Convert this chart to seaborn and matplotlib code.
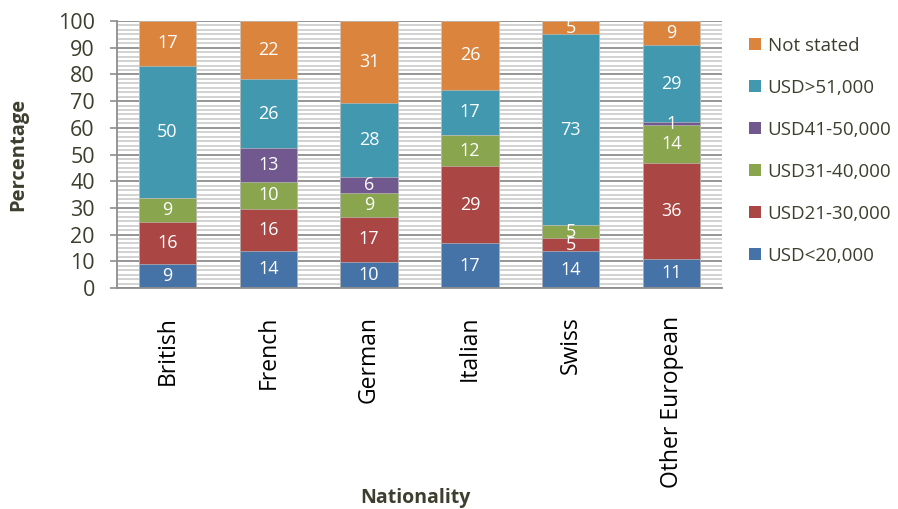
import numpy as np
import pandas as pd
import matplotlib
matplotlib.use("Agg")
import matplotlib.pyplot as plt
from matplotlib.patches import Patch
import seaborn as sns

# Survey: income band share by nationality (percent, rounded)
nationalities = ["British", "French", "German", "Italian", "Swiss", "Other European"]
usd_lt_20k = [9, 14, 10, 17, 14, 11]
usd_21_30k = [16, 16, 17, 29, 5, 36]
usd_31_40k = [9, 10, 9, 12, 5, 14]
usd_41_50k = [0, 13, 6, 0, 0, 1]
usd_gt_51k = [50, 26, 28, 17, 73, 29]
not_stated = [17, 22, 31, 26, 5, 9]

series_names = ["USD<20,000", "USD21-30,000", "USD31-40,000",
                "USD41-50,000", "USD>51,000", "Not stated"]
series_values = [usd_lt_20k, usd_21_30k, usd_31_40k, usd_41_50k, usd_gt_51k, not_stated]
series_colors = ["#4572A7", "#AA4643", "#89A54E", "#71588F", "#4198AF", "#DB843D"]

y_ticks = list(range(0, 101, 10))

sns.set_theme(style="white")
plt.rcParams["font.family"] = ["Open Sans", "DejaVu Sans"]

fig = plt.figure(figsize=(8.98, 5.09), dpi=100)
ax = fig.add_axes([0.1303, 0.4342, 0.6737, 0.5245])

# 100% stacked: scale each nationality's bands to sum to 100
raw = np.array(series_values, dtype=float)
totals = raw.sum(axis=0)
pct = raw / totals * 100
cum = np.cumsum(pct, axis=0)
bottoms = cum - pct

# Striped plot-area background with darker major gridlines
for y in np.arange(0, 100, 10 / 6):
    if abs(y / 10 - round(y / 10)) > 1e-6:
        ax.axhline(y, color="#d2d2d2", lw=1.4, zorder=0)
for y in y_ticks:
    ax.axhline(y, color="#8e8e8e", lw=1.3, zorder=0.5)

# Draw cumulative tops from the highest band down so each layer shows its slice
for i in range(len(series_names) - 1, -1, -1):
    df = pd.DataFrame({"Nationality": nationalities, "top": cum[i]})
    sns.barplot(data=df, x="Nationality", y="top", color=series_colors[i],
                saturation=1, width=0.57, ax=ax, zorder=2,
                edgecolor="#c8c8c8", linewidth=0.4)

# Value labels centred in each band
for i in range(len(series_names)):
    for j in range(len(nationalities)):
        v = series_values[i][j]
        if v == 0:
            continue
        ax.text(j, bottoms[i][j] + pct[i][j] / 2, f"{v}", ha="center", va="center",
                color="white", fontsize=13, zorder=5)

ax.set_xlim(-0.5, len(nationalities) - 0.5)
ax.set_ylim(0, 100)
ax.set_yticks(y_ticks)
ax.set_yticklabels([str(t) for t in y_ticks], fontsize=15.5, color="#3e3e2e")
ax.tick_params(axis="y", which="both", left=True, length=5, width=1.2,
               color="#8e8e8e", pad=11)
ax.tick_params(axis="x", labelsize=16.5, labelrotation=90, bottom=False,
               labelcolor="black", pad=14)
for lab in ax.get_xticklabels():
    lab.set_va("top")

ax.set_ylabel("Percentage", fontsize=14.5, fontweight="bold", color="#3e3e2e")
ax.yaxis.set_label_coords(-0.147, 0.5)
ax.set_xlabel("")
fig.text(0.463, 0.022, "Nationality", ha="center", va="center",
         fontsize=14, fontweight="bold", color="#3e3e2e")

for side in ["top", "right"]:
    ax.spines[side].set_visible(False)
for side in ["left", "bottom"]:
    ax.spines[side].set_color("#8e8e8e")
    ax.spines[side].set_linewidth(1.3)

handles = [Patch(facecolor=series_colors[i], edgecolor="none", label=series_names[i])
           for i in range(len(series_names) - 1, -1, -1)]
fig.legend(handles=handles, loc="upper left", bbox_to_anchor=(0.834, 0.928),
           frameon=False, fontsize=13.5, labelcolor="#3e3e2e",
           handlelength=0.65, handleheight=0.65, handletextpad=0.35,
           labelspacing=1.28, borderaxespad=0, borderpad=0)

fig.savefig("out.png", dpi=100)
